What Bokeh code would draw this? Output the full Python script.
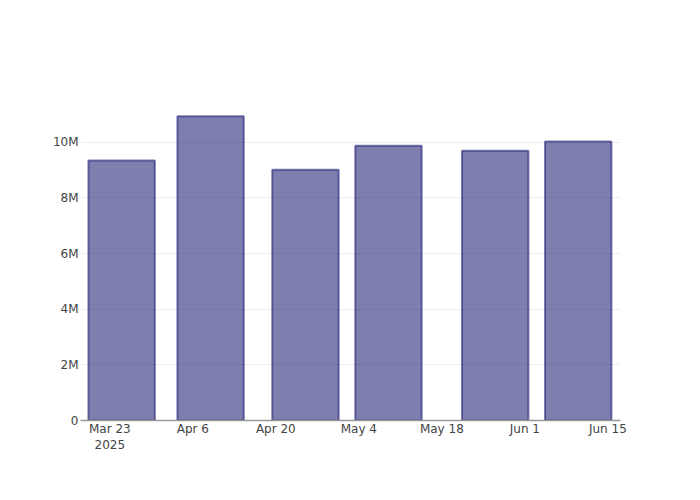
import pandas as pd
from bokeh.plotting import figure
from bokeh.models import Range1d, FixedTicker
from bokeh.embed import file_html
from bokeh.resources import INLINE

# data
dates = ["2025-03-25", "2025-04-09", "2025-04-25", "2025-05-09", "2025-05-27", "2025-06-10"]
values = [9.34e6, 10.93e6, 9.01e6, 9.87e6, 9.69e6, 10.03e6]
x_tick_dates = ["2025-03-23", "2025-04-06", "2025-04-20", "2025-05-04", "2025-05-18", "2025-06-01", "2025-06-15"]
x_tick_labels = ["Mar 23\n2025", "Apr 6", "Apr 20", "May 4", "May 18", "Jun 1", "Jun 15"]
y_ticks = [0, 2e6, 4e6, 6e6, 8e6, 10e6]
y_tick_labels = ["0", "2M", "4M", "6M", "8M", "10M"]

xs = pd.to_datetime(dates)
day_ms = 86400000.0
bar_width = 11.2 * day_ms

x_start = pd.Timestamp("2025-03-23") - pd.Timedelta(days=4.94)
x_end = pd.Timestamp("2025-03-23") + pd.Timedelta(days=86.13)

p = figure(
    output_backend="svg", toolbar_location=None,
    x_axis_type="datetime",
    frame_width=540, frame_height=320,
    min_border_left=80, min_border_right=56, min_border_top=100, min_border_bottom=56,
    x_range=Range1d(x_start, x_end), y_range=Range1d(0, 11.5e6),
)
p.outline_line_color = None
p.background_fill_color = "white"
p.border_fill_color = "white"

p.vbar(x=xs, top=values, width=bar_width, bottom=0,
       fill_color="midnightblue", fill_alpha=0.56,
       line_color="midnightblue", line_alpha=0.56, line_width=2)

tick_ms = [pd.Timestamp(d).value / 1e6 for d in x_tick_dates]
p.xaxis.ticker = FixedTicker(ticks=tick_ms)
p.xaxis.major_label_overrides = {t: l for t, l in zip(tick_ms, x_tick_labels)}
p.xaxis.axis_line_color = "#999999"
p.xaxis.axis_line_width = 1.5
p.xaxis.major_tick_line_color = None
p.xaxis.minor_tick_line_color = None
p.xaxis.major_tick_in = 0
p.xaxis.major_tick_out = 0
p.xaxis.major_label_standoff = 1
p.xaxis.major_label_text_font = "DejaVu Sans"
p.xaxis.major_label_text_font_size = "12px"
p.xaxis.major_label_text_color = "#444444"
p.xgrid.grid_line_color = None

p.yaxis.ticker = FixedTicker(ticks=y_ticks)
p.yaxis.major_label_overrides = {t: l for t, l in zip(y_ticks, y_tick_labels)}
p.yaxis.axis_line_color = None
p.yaxis.major_tick_line_color = None
p.yaxis.minor_tick_line_color = None
p.yaxis.major_tick_in = 0
p.yaxis.major_tick_out = 0
p.yaxis.major_label_standoff = 2
p.yaxis.major_label_text_font = "DejaVu Sans"
p.yaxis.major_label_text_font_size = "12px"
p.yaxis.major_label_text_color = "#444444"
p.ygrid.grid_line_color = "#eeeeee"
p.ygrid.grid_line_width = 1

open("out.html", "w").write(file_html(p, INLINE))
